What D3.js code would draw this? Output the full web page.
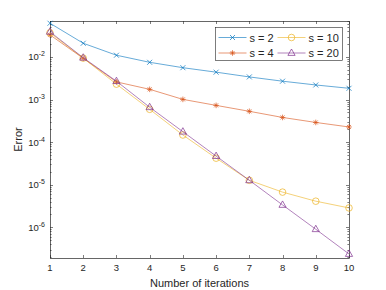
<!DOCTYPE html>
<html>
<head>
<meta charset="utf-8">
<script src="https://cdn.jsdelivr.net/npm/d3@7"></script>
<style>
body { margin: 0; background: #fff; }
text { font-family: "Liberation Sans", Arial, sans-serif; fill: #262626; }
</style>
</head>
<body>
<div id="chart"></div>
<script>
var iterations = [1, 2, 3, 4, 5, 6, 7, 8, 9, 10];
var seriesNames = ["s = 2", "s = 4", "s = 10", "s = 20"];
var err_s2 = [0.062, 0.021, 0.011, 0.0075, 0.0056, 0.0044, 0.0034, 0.0027, 0.0022, 0.00184];
var err_s4 = [0.033, 0.0093, 0.0026, 0.00174, 0.00101, 0.00073, 0.00053, 0.00038, 0.00029, 0.000227];
var err_s10 = [0.037, 0.0094, 0.0023, 0.00059, 0.000147, 0.000042, 0.0000127, 0.0000067, 0.0000041, 0.00000285];
var err_s20 = [0.039, 0.0096, 0.0027, 0.00066, 0.000176, 0.000047, 0.0000127, 0.00000335, 0.0000009, 0.000000236];
var yTicks = [1e-6, 1e-5, 1e-4, 1e-3, 1e-2];
var yDomain = [1.9e-7, 0.07];

var colors = ["#0072BD", "#D95319", "#EDB120", "#7E2F8E"];
var markers = ["x", "star", "circle", "triangle"];
var allSeries = [err_s2, err_s4, err_s10, err_s20];

var width = 386, height = 290;
var margin = {left: 50, right: 37, top: 21, bottom: 32};
var iw = width - margin.left - margin.right;
var ih = height - margin.top - margin.bottom;

var svg = d3.select("#chart").append("svg").attr("width", width).attr("height", height);
var g = svg.append("g").attr("transform", "translate(" + margin.left + "," + margin.top + ")");

var x = d3.scaleLinear().domain([1, 10]).range([0, iw]);
var y = d3.scaleLog().domain(yDomain).range([ih, 0]);

// minor log ticks
var minor = [];
for (var e = -7; e <= -1; e++) {
  for (var m = 1; m <= 9; m++) {
    var v = m * Math.pow(10, e);
    if (v >= yDomain[0] && v <= yDomain[1]) minor.push({v: v, major: m == 1});
  }
}
var axisColor = "#262626";
g.selectAll(".ytick").data(minor).enter().append("path")
  .attr("d", function(d) {
    var len = d.major ? 3 : 1.6;
    var yy = Math.round(y(d.v)) + 0.5;
    return "M0," + yy + "h" + len + "M" + iw + "," + yy + "h" + (-len);
  })
  .attr("stroke", axisColor).attr("stroke-width", 0.6);

g.selectAll(".xtick").data(iterations).enter().append("path")
  .attr("d", function(d) {
    var xx = Math.round(x(d)) + 0.5;
    return "M" + xx + "," + ih + "v-3M" + xx + ",0v3";
  })
  .attr("stroke", axisColor).attr("stroke-width", 0.6);

g.append("rect").attr("x", 0.5).attr("y", 0.5).attr("width", iw).attr("height", ih)
  .attr("fill", "none").attr("stroke", axisColor).attr("stroke-width", 0.7);

// tick labels
g.selectAll(".xl").data(iterations).enter().append("text")
  .attr("x", function(d) { return x(d); }).attr("y", ih + 13)
  .attr("text-anchor", "middle").attr("font-size", 9.5).text(function(d) { return d; });

var yl = g.selectAll(".yl").data(yTicks).enter().append("text")
  .attr("x", -5).attr("y", function(d) { return y(d) + 3.5; })
  .attr("text-anchor", "end").attr("font-size", 9.5);
yl.append("tspan").text("10");
yl.append("tspan").attr("dy", -4).attr("font-size", 7).text(function(d) { return Math.round(Math.log10(d)); });

svg.append("text").attr("x", margin.left + iw / 2).attr("y", 287)
  .attr("text-anchor", "middle").attr("font-size", 11).text("Number of iterations");
svg.append("text").attr("transform", "translate(22," + (margin.top + ih / 2) + ") rotate(-90)")
  .attr("text-anchor", "middle").attr("font-size", 11).text("Error");

function drawMarker(sel, type, color) {
  if (type == "x") {
    sel.append("path").attr("d", "M-2.5,-2.5L2.5,2.5M-2.5,2.5L2.5,-2.5").attr("stroke", color).attr("stroke-width", 0.7);
  } else if (type == "star") {
    sel.append("path").attr("d", "M-2.8,0H2.8M0,-2.8V2.8M-2,-2L2,2M-2,2L2,-2").attr("stroke", color).attr("stroke-width", 0.7);
  } else if (type == "circle") {
    sel.append("circle").attr("r", 3.3).attr("fill", "none").attr("stroke", color).attr("stroke-width", 0.7);
  } else {
    sel.append("path").attr("d", "M0,-4L3.6,2.4L-3.6,2.4Z").attr("fill", "none").attr("stroke", color).attr("stroke-width", 0.7);
  }
}

var line = d3.line().x(function(d, i) { return x(iterations[i]); }).y(function(d) { return y(d); });
var plot = g.append("g");
allSeries.forEach(function(s, k) {
  plot.append("path").datum(s).attr("d", line).attr("fill", "none")
    .attr("stroke", colors[k]).attr("stroke-width", 0.6);
  plot.selectAll(".m" + k).data(s).enter().append("g")
    .attr("transform", function(d, i) { return "translate(" + x(iterations[i]) + "," + y(d) + ")"; })
    .each(function() { drawMarker(d3.select(this), markers[k], colors[k]); });
});

// legend
var lg = svg.append("g").attr("transform", "translate(215.5,27.5)");
lg.append("rect").attr("width", 127).attr("height", 33).attr("fill", "#fff")
  .attr("stroke", axisColor).attr("stroke-width", 0.6);
seriesNames.forEach(function(name, k) {
  var col = k < 2 ? 0 : 1, row = k % 2;
  var ex = 3 + col * 59, ey = 10 + row * 15.5;
  var item = lg.append("g").attr("transform", "translate(" + ex + "," + ey + ")");
  item.append("line").attr("x1", 0).attr("x2", 28).attr("stroke", colors[k]).attr("stroke-width", 0.6);
  drawMarker(item.append("g").attr("transform", "translate(14,0)"), markers[k], colors[k]);
  item.append("text").attr("x", 31).attr("y", 4).attr("font-size", 11).text(name);
});
</script>
</body>
</html>
